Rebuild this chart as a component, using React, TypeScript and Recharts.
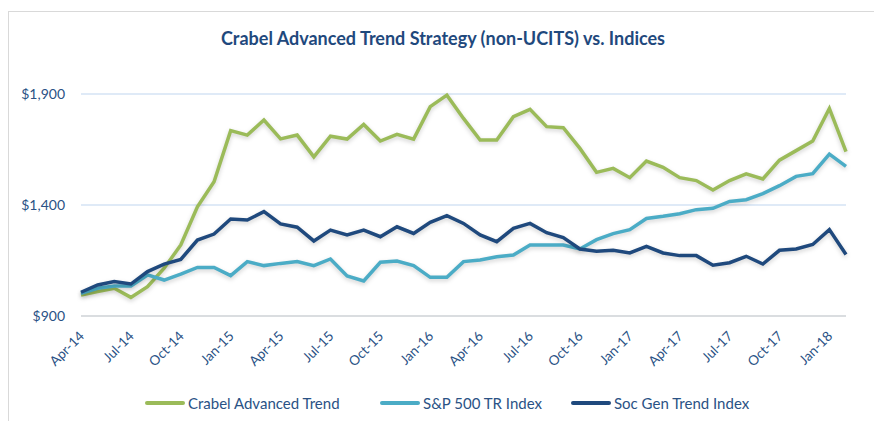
import React from "react";
import { LineChart, Line, XAxis, YAxis, CartesianGrid } from "recharts";

const months = [
  "Apr-14", "May-14", "Jun-14", "Jul-14", "Aug-14", "Sep-14", "Oct-14", "Nov-14", "Dec-14",
  "Jan-15", "Feb-15", "Mar-15", "Apr-15", "May-15", "Jun-15", "Jul-15", "Aug-15", "Sep-15",
  "Oct-15", "Nov-15", "Dec-15", "Jan-16", "Feb-16", "Mar-16", "Apr-16", "May-16", "Jun-16",
  "Jul-16", "Aug-16", "Sep-16", "Oct-16", "Nov-16", "Dec-16", "Jan-17", "Feb-17", "Mar-17",
  "Apr-17", "May-17", "Jun-17", "Jul-17", "Aug-17", "Sep-17", "Oct-17", "Nov-17", "Dec-17",
  "Jan-18", "Feb-18",
];

const crabel = [
  995, 1010, 1025, 984, 1032, 1115, 1220, 1392, 1505, 1735, 1715, 1783, 1698, 1715, 1617, 1710,
  1697, 1763, 1688, 1718, 1697, 1843, 1895, 1790, 1693, 1693, 1798, 1831, 1753, 1748, 1655,
  1547, 1565, 1523, 1598, 1570, 1523, 1510, 1468, 1510, 1540, 1517, 1602, 1645, 1688, 1835, 1640,
];

const sp500 = [
  1002, 1025, 1035, 1035, 1085, 1062, 1089, 1119, 1119, 1082, 1145, 1127, 1137, 1145, 1127, 1157,
  1080, 1058, 1142, 1148, 1127, 1074, 1074, 1145, 1152, 1167, 1175, 1220, 1220, 1220, 1202,
  1244, 1271, 1289, 1339, 1349, 1361, 1379, 1385, 1416, 1424, 1451, 1487, 1529, 1541, 1629, 1574,
];

const socGen = [
  1007, 1040, 1055, 1044, 1100, 1134, 1155, 1242, 1269, 1337, 1332, 1370, 1315, 1300, 1238, 1287,
  1265, 1287, 1257, 1302, 1272, 1322, 1352, 1317, 1265, 1235, 1295, 1317, 1275, 1253, 1202,
  1192, 1196, 1184, 1214, 1184, 1172, 1172, 1129, 1140, 1169, 1134, 1196, 1202, 1222, 1289, 1177,
];

const yTicks = [900, 1400, 1900];

const seriesInfo = [
  { key: "crabel", name: "Crabel Advanced Trend", color: "#9BBB59", left: 145 },
  { key: "sp500", name: "S&P 500 TR Index", color: "#4BACC6", left: 380 },
  { key: "socGen", name: "Soc Gen Trend Index", color: "#1F497D", left: 571 },
];

const data = months.map((m, i) => ({
  month: m,
  crabel: crabel[i],
  sp500: sp500[i],
  socGen: socGen[i],
}));

const FONT = "Lato, 'Open Sans', sans-serif";
const LABEL_COLOR = "#2A5285";

const MonthTick = (props: any) => {
  const { x, payload } = props;
  return (
    <g transform={`translate(${x + 4},${337})`}>
      <text
        x={0}
        y={0}
        textAnchor="end"
        transform="rotate(-45)"
        fill={LABEL_COLOR}
        fontSize={13.5}
        fontFamily={FONT}
      >
        {payload.value}
      </text>
    </g>
  );
};

const App: React.FC = () => {
  return (
    <div style={{ position: "absolute", left: 0, top: 0, width: 874, height: 421, background: "#fff", overflow: "hidden", fontFamily: FONT }}>
      <div
        style={{
          position: "absolute",
          left: 8,
          top: 11,
          width: 900,
          height: 500,
          border: "1.5px solid #D9D9D9",
        }}
      />
      <div
        style={{
          position: "absolute",
          left: 0,
          width: 886,
          top: 27,
          textAlign: "center",
          fontSize: 18,
          fontWeight: 700,
          color: "#1F497D",
        }}
      >
        Crabel Advanced Trend Strategy (non-UCITS) vs. Indices
      </div>
      <LineChart
        width={874}
        height={421}
        data={data}
        margin={{ top: 94, right: 28, left: 0, bottom: 0 }}
        style={{ position: "absolute", left: 0, top: 0 }}
      >
        <CartesianGrid vertical={false} stroke="#D5E3F5" strokeWidth={1.5} />
        <XAxis
          dataKey="month"
          interval={2}
          tick={<MonthTick />}
          tickLine={false}
          axisLine={{ stroke: "#D9D9D9", strokeWidth: 1.5 }}
          height={105}
        />
        <YAxis
          domain={[900, 1900]}
          ticks={yTicks}
          width={81}
          tickLine={false}
          axisLine={false}
          tickMargin={10}
          tickFormatter={(v: number) => `$${v.toLocaleString("en-US")}`}
          tick={{ fill: LABEL_COLOR, fontSize: 14, fontFamily: FONT }}
        />
        {seriesInfo.map((s) => (
          <Line
            key={s.key}
            type="linear"
            dataKey={s.key}
            name={s.name}
            stroke={s.color}
            strokeWidth={3.5}
            dot={false}
            isAnimationActive={false}
            style={{ filter: "drop-shadow(0px 2px 2px rgba(0,0,0,0.18))" }}
          />
        ))}
      </LineChart>
      {seriesInfo.map((s) => (
        <div
          key={s.key}
          style={{
            position: "absolute",
            left: s.left,
            top: 394,
            height: 18,
            display: "flex",
            alignItems: "center",
            whiteSpace: "nowrap",
          }}
        >
          <div style={{ width: 40, height: 4, background: s.color, borderRadius: 2, marginRight: 3 }} />
          <span style={{ fontSize: 15, color: LABEL_COLOR }}>{s.name}</span>
        </div>
      ))}
    </div>
  );
};

export default App;
